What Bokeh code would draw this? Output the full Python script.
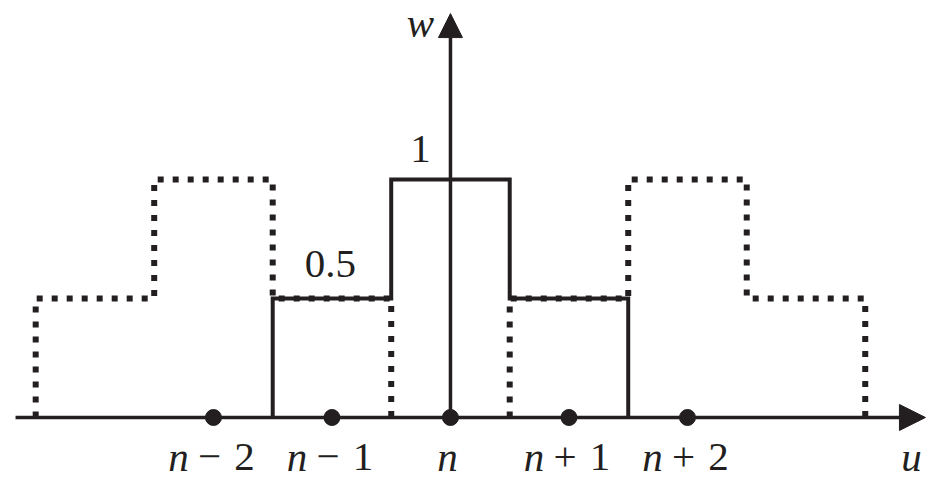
from bokeh.plotting import figure
from bokeh.models import Range1d, Arrow, NormalHead
from bokeh.core.properties import value
from bokeh.embed import file_html
from bokeh.resources import INLINE

# ---- data ----
solid_u = [-1.5, -1.5, -0.5, -0.5, 0.5, 0.5, 1.5, 1.5]
solid_w = [0, 0.5, 0.5, 1, 1, 0.5, 0.5, 0]
dot_left_u = [-3.5, -3.5, -2.5, -2.5, -1.5, -1.5, -0.5, -0.5]
dot_left_w = [0, 0.5, 0.5, 1, 1, 0.5, 0.5, 0]
dot_right_u = [0.5, 0.5, 1.5, 1.5, 2.5, 2.5, 3.5, 3.5]
dot_right_w = [0, 0.5, 0.5, 1, 1, 0.5, 0.5, 0]
tick_u = [-2, -1, 0, 1, 2]
tick_labels = ["n − 2", "n − 1", "n", "n + 1", "n + 2"]

INK = "#231f20"
FONT = value("Liberation Serif")
FS = "41px"

p = figure(width=933, height=480, output_backend="svg", toolbar_location=None,
           x_range=Range1d(-3.797, 4.076), y_range=Range1d(-0.2647, 1.752),
           min_border=0, background_fill_color="white", border_fill_color="white")
p.xaxis.visible = False
p.yaxis.visible = False
p.grid.visible = False
p.outline_line_color = None

# dotted copies
for uu, ww in [(dot_left_u, dot_left_w), (dot_right_u, dot_right_w)]:
    p.line(uu, ww, line_color=INK, line_width=6, line_dash="6 9", line_cap="butt")

# solid step
p.line(solid_u, solid_w, line_color=INK, line_width=4, line_join="miter")

# axes with arrows
p.add_layout(Arrow(x_start=-3.67, y_start=0, x_end=4.008, y_end=0,
                   line_color=INK, line_width=3.5,
                   end=NormalHead(size=26, line_color=INK, fill_color=INK, line_width=1)))
p.add_layout(Arrow(x_start=0, y_start=0, x_end=0, y_end=1.697,
                   line_color=INK, line_width=3.5,
                   end=NormalHead(size=24, line_color=INK, fill_color=INK, line_width=1)))

# tick dots
p.scatter(tick_u, [0] * len(tick_u), size=16, color=INK)

# tick labels: italic n, roman operator and digit
base_w = -0.164
unit_px = 118.5
for t, lab in zip(tick_u, tick_labels):
    parts = lab.split(" ")
    if len(parts) == 1:
        p.text([t - 3 / unit_px], [base_w], text=[parts[0]], text_font=FONT,
               text_font_style="italic", text_font_size=FS, text_align="center",
               text_baseline="alphabetic", text_color=INK)
    else:
        n_s, op, dig = parts
        p.text([t - 35 / unit_px], [base_w], text=[n_s], text_font=FONT,
               text_font_style="italic", text_font_size=FS, text_align="center",
               text_baseline="alphabetic", text_color=INK)
        p.text([t - 4 / unit_px], [base_w], text=[op], text_font=FONT,
               text_font_size=FS, text_align="center",
               text_baseline="alphabetic", text_color=INK)
        p.text([t + 31 / unit_px], [base_w], text=[dig], text_font=FONT,
               text_font_size=FS, text_align="center",
               text_baseline="alphabetic", text_color=INK)

# axis names and level labels
p.text([3.89], [base_w], text=["u"], text_font=FONT, text_font_style="italic",
       text_font_size=FS, text_align="center", text_baseline="alphabetic", text_color=INK)
p.text([-0.253], [1.659], text=["w"], text_font=FONT, text_font_style="italic",
       text_font_size=FS, text_align="center", text_baseline="alphabetic", text_color=INK)
p.text([-0.253], [1.130], text=["1"], text_font=FONT,
       text_font_size=FS, text_align="center", text_baseline="alphabetic", text_color=INK)
p.text([-1.013], [0.643], text=["0.5"], text_font=FONT,
       text_font_size=FS, text_align="center", text_baseline="alphabetic", text_color=INK)

open("out.html", "w").write(file_html(p, INLINE))
